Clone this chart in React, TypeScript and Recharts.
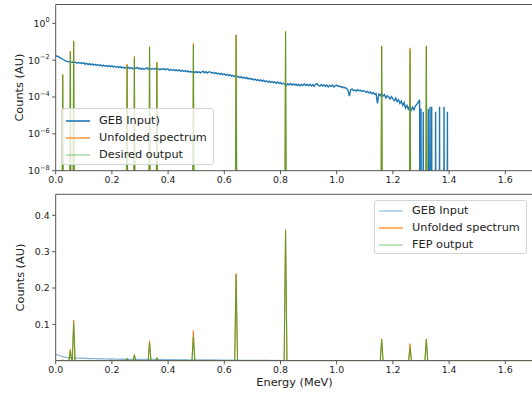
import React from 'react';
import { LineChart, Line, XAxis, YAxis, ReferenceLine } from 'recharts';

// ---------- data ----------
const X_MIN = 0;
const X_MAX = 1.7;
const X_TICKS = [0, 0.2, 0.4, 0.6, 0.8, 1.0, 1.2, 1.4, 1.6];
const LOG_TICKS = [1, 1e-2, 1e-4, 1e-6, 1e-8];
const LOG_DOMAIN = [1e-8, 10.5];
const LIN_TICKS = [0.1, 0.2, 0.3, 0.4];
const LIN_DOMAIN = [0, 0.458];

// GEB input spectrum, bins of 0.005 MeV starting at 0
const GEB_START = 0;
const GEB_STEP = 0.005;
const gebValues = [
  1.78e-2, 1.62e-2, 1.55e-2, 1.35e-2, 1.29e-2, 1.12e-2, 1.02e-2, 8.9e-3, 8.9e-3, 8.1e-3,
  8.3e-3, 7.6e-3, 7.9e-3, 7.4e-3, 7.8e-3, 7.1e-3, 7.4e-3, 6.9e-3, 7.2e-3, 6.6e-3,
  7.1e-3, 6.0e-3, 6.8e-3, 5.8e-3, 6.5e-3, 5.6e-3, 6.3e-3, 5.4e-3, 6.0e-3, 5.2e-3,
  5.8e-3, 5.0e-3, 5.5e-3, 4.8e-3, 5.4e-3, 4.7e-3, 5.1e-3, 4.5e-3, 5.0e-3, 4.4e-3,
  4.9e-3, 4.3e-3, 4.7e-3, 4.1e-3, 4.5e-3, 3.9e-3, 4.4e-3, 3.8e-3, 4.2e-3, 3.7e-3,
  4.1e-3, 3.55e-3, 4.0e-3, 3.45e-3, 3.9e-3, 3.4e-3, 3.8e-3, 3.55e-3, 4.0e-3, 3.4e-3,
  3.7e-3, 3.2e-3, 3.6e-3, 3.2e-3, 3.55e-3, 3.8e-3, 3.2e-3, 3.6e-3, 3.2e-3, 3.55e-3,
  3.2e-3, 3.6e-3, 3.1e-3, 3.5e-3, 3.0e-3, 3.4e-3, 3.1e-3, 3.5e-3, 2.95e-3, 3.3e-3,
  3.25e-3, 2.8e-3, 3.2e-3, 2.75e-3, 3.1e-3, 2.7e-3, 3.0e-3, 2.6e-3, 2.95e-3, 2.55e-3,
  2.8e-3, 2.45e-3, 2.7e-3, 2.35e-3, 2.6e-3, 2.25e-3, 2.5e-3, 2.15e-3, 2.45e-3, 2.1e-3,
  2.4e-3, 2.1e-3, 2.35e-3, 2.05e-3, 2.3e-3, 2.45e-3, 2.05e-3, 2.35e-3, 2.0e-3, 2.3e-3,
  2.3e-3, 2.0e-3, 2.2e-3, 1.86e-3, 2.1e-3, 1.78e-3, 2.0e-3, 1.7e-3, 1.9e-3, 1.62e-3,
  1.78e-3, 1.55e-3, 1.7e-3, 1.45e-3, 1.62e-3, 1.35e-3, 1.51e-3, 1.29e-3, 1.45e-3, 1.23e-3,
  1.32e-3, 1.12e-3, 1.26e-3, 1.07e-3, 1.2e-3, 1.0e-3, 1.15e-3, 9.5e-4, 1.07e-3, 9.1e-4,
  9.8e-4, 8.5e-4, 9.3e-4, 7.9e-4, 8.9e-4, 7.6e-4, 8.5e-4, 7.1e-4, 8.1e-4, 6.8e-4,
  7.6e-4, 6.5e-4, 7.2e-4, 6.2e-4, 6.9e-4, 5.9e-4, 6.6e-4, 5.6e-4, 6.5e-4, 5.5e-4,
  6.0e-4, 5.1e-4, 5.6e-4, 4.9e-4, 4.0e-4, 5.2e-4, 4.6e-4, 5.4e-4, 4.5e-4, 5.1e-4,
  4.4e-4, 5.0e-4, 4.2e-4, 4.9e-4, 4.1e-4, 4.8e-4, 4.3e-4, 5.1e-4, 4.2e-4, 4.9e-4,
  4.1e-4, 4.9e-4, 4.0e-4, 4.7e-4, 3.8e-4, 5.0e-4, 5.4e-4, 4.2e-4, 3.9e-4, 4.7e-4,
  3.9e-4, 4.6e-4, 3.7e-4, 4.4e-4, 3.55e-4, 4.3e-4, 3.8e-4, 4.5e-4, 3.55e-4, 4.2e-4,
  4.4e-4, 3.7e-4, 3.9e-4, 3.5e-4, 3.6e-4, 3.2e-4, 3.3e-4, 2.9e-4, 2.4e-4, 1.12e-4,
  2.5e-4, 2.7e-4, 2.2e-4, 2.4e-4, 2.1e-4, 2.5e-4, 2.2e-4, 2.3e-4, 2.0e-4, 2.2e-4,
  2.1e-4, 1.78e-4, 2.0e-4, 1.66e-4, 1.86e-4, 1.51e-4, 1.74e-4, 1.41e-4, 1.58e-4, 4.5e-5,
  1.41e-4, 1.2e-4, 1.58e-4, 1.12e-4, 1.32e-4, 8.9e-5, 1.17e-4, 1.0e-4, 7.9e-5, 1.05e-4,
  7.9e-5, 6.3e-5, 8.9e-5, 5.6e-5, 7.1e-5, 4.5e-5, 6.0e-5, 3.5e-5, 5.0e-5, 2.5e-5,
  3.5e-5, 2.2e-5, 3.2e-5, 1.9e-5, 2.8e-5, 2.0e-5, 3.2e-5, 4.0e-5, 5.0e-5, 7.1e-5,
];

// sparse high-energy tail of the GEB input, bins of 0.002 MeV
const GEB_TAIL_START = 1.298;
const GEB_TAIL_STEP = 0.002;
const gebTailValues = [
  0, 2.4e-5, 0, 0, 0, 1.6e-5, 0, 0, 0, 0,
  0, 0, 0, 0, 2.2e-5, 0, 0, 3.0e-5, 0, 0,
  3.0e-5, 0, 0, 0, 0, 0, 0, 1.6e-5, 0, 0,
  0, 0, 0, 0, 3.0e-5, 0, 0, 0, 0, 0,
  0, 0, 3.0e-5, 0, 0, 0, 0, 0, 1.6e-5, 0,
  0, 0,
];

// photopeaks (MeV) with desired (FEP) and unfolded heights
const peakEnergies = [0.025, 0.052, 0.064, 0.254, 0.28, 0.334, 0.36, 0.49, 0.642, 0.818, 1.16, 1.261, 1.319];
const desiredHeights = [1.6e-3, 0.028, 0.105, 5.5e-3, 0.014, 0.05, 7.4e-3, 0.066, 0.235, 0.358, 0.058, 0.036, 0.058];
const unfoldedHeights = [1.7e-3, 0.032, 0.112, 6.2e-3, 0.0165, 0.055, 8.0e-3, 0.083, 0.24, 0.361, 0.06, 0.047, 0.06];
const PEAK_HALF_WIDTH = 0.005;

const topLegendLabels = ['GEB Input)', 'Unfolded spectrum', 'Desired output'];
const bottomLegendLabels = ['GEB Input', 'Unfolded spectrum', 'FEP output'];

// ---------- derived series ----------
const LOG_FLOOR = 1e-20;
const gebData = [
  ...gebValues.map((v, i) => ({ e: +(GEB_START + i * GEB_STEP).toFixed(4), v })),
  ...gebTailValues.map((v, i) => ({ e: +(GEB_TAIL_START + i * GEB_TAIL_STEP).toFixed(4), v })),
];
function peakSeries(heights: number[]) {
  const pts: { e: number; v: number }[] = [{ e: X_MIN, v: 0 }];
  peakEnergies.forEach((E, i) => {
    pts.push({ e: E - PEAK_HALF_WIDTH, v: 0 }, { e: E, v: heights[i] }, { e: E + PEAK_HALF_WIDTH, v: 0 });
  });
  pts.push({ e: X_MAX, v: 0 });
  return pts;
}
const desiredData = peakSeries(desiredHeights);
const unfoldedData = peakSeries(unfoldedHeights);
const toLog = (d: { e: number; v: number }[]) => d.map((p) => ({ e: p.e, v: p.v > 0 ? p.v : LOG_FLOOR }));
const gebLog = toLog(gebData);
const desiredLog = toLog(desiredData);
const unfoldedLog = toLog(unfoldedData);

// ---------- styles ----------
const FONT = '"DejaVu Sans", sans-serif';
const AXIS = '#555';
const TXT = '#222';
const BLUE = '#1f77b4';
const ORANGE = '#ff7f0e';
const GREEN = '#2ca02c';
const TICK_FS = 9.4;
const LABEL_FS = 11.3;
const CHART_W = 545;
const RIGHT_M = 11.6;
const Y_AXIS_W = 55.7;

const LogTick = (props: any) => {
  const { x, y, payload } = props;
  const exp = Math.round(Math.log10(payload.value));
  const sup = exp === 0 ? '0' : '\u2212' + Math.abs(exp);
  return (
    <text x={x} y={y + 3.4} textAnchor="end" fontSize={TICK_FS} fill={TXT} fontFamily={FONT}>
      <tspan>10</tspan>
      <tspan dy={-4.6} fontSize={6.6}>{sup}</tspan>
    </text>
  );
};

const yLabel = (props: any) => {
  const vb = props.viewBox || {};
  const cx = 20;
  const cy = vb.y + vb.height / 2;
  return (
    <text x={cx} y={cy} transform={`rotate(-90, ${cx}, ${cy})`} textAnchor="middle" dominantBaseline="central"
      fontSize={LABEL_FS} fill={TXT} fontFamily={FONT}>Counts (AU)</text>
  );
};

const xLabel = (props: any) => {
  const vb = props.viewBox || {};
  const cx = vb.x + vb.width / 2;
  const cy = vb.y + 22;
  return (
    <text x={cx} y={cy} textAnchor="middle" dominantBaseline="central" fontSize={LABEL_FS} fill={TXT} fontFamily={FONT}>
      Energy (MeV)
    </text>
  );
};

type LegendItem = { label: string; color: string; width: number; opacity: number };
function LegendBox({ left, top, width, height, firstRow, items }: { left: number; top: number; width: number; height: number; firstRow: number; items: LegendItem[] }) {
  return (
    <div style={{ position: 'absolute', left, top, width, height, boxSizing: 'border-box', border: '1px solid #d4d4d4', borderRadius: 3, background: 'rgba(255,255,255,0.8)', fontFamily: FONT }}>
      {items.map((it, i) => {
        const cy = firstRow + i * 17;
        return (
          <React.Fragment key={it.label}>
            <svg style={{ position: 'absolute', left: 4, top: cy - 4, overflow: 'visible' }} width={25} height={8}>
              <line x1={0} x2={24} y1={4} y2={4} stroke={it.color} strokeWidth={it.width} strokeOpacity={it.opacity} />
            </svg>
            <div style={{ position: 'absolute', left: 37, top: cy - 8, height: 16, lineHeight: '16px', fontSize: LABEL_FS, color: TXT, whiteSpace: 'nowrap' }}>
              {it.label}
            </div>
          </React.Fragment>
        );
      })}
    </div>
  );
}

const xAxisCommon = {
  dataKey: 'e',
  type: 'number' as const,
  domain: [X_MIN, X_MAX],
  ticks: X_TICKS,
  allowDataOverflow: true,
  tickFormatter: (v: number) => v.toFixed(1),
  tick: { fontSize: TICK_FS, fill: TXT, fontFamily: FONT },
  tickSize: 3.5,
  tickMargin: 2.5,
  stroke: AXIS,
  axisLine: { stroke: AXIS },
  tickLine: { stroke: AXIS },
};

export default function App() {
  const topStyles = [
    { color: BLUE, width: 1.6, opacity: 1 },
    { color: ORANGE, width: 1.2, opacity: 1 },
    { color: GREEN, width: 1.2, opacity: 0.5 },
  ];
  const bottomStyles = [
    { color: BLUE, width: 1.2, opacity: 0.5 },
    { color: ORANGE, width: 1.2, opacity: 1 },
    { color: GREEN, width: 1.2, opacity: 0.5 },
  ];
  return (
    <div style={{ position: 'relative', width: 532, height: 394, overflow: 'hidden', background: '#fff' }}>
      <style>{'body{margin:0;}'}</style>
      <div style={{ position: 'absolute', left: 0, top: 0 }}>
        <LineChart width={CHART_W} height={190} margin={{ top: 4.5, right: RIGHT_M, bottom: 0, left: 0 }}>
          <XAxis {...xAxisCommon} height={19.3} />
          <YAxis
            type="number"
            scale="log"
            domain={LOG_DOMAIN}
            ticks={LOG_TICKS}
            allowDataOverflow
            width={Y_AXIS_W}
            tick={<LogTick />}
            tickSize={3.5}
            tickMargin={2.5}
            axisLine={{ stroke: AXIS }}
            tickLine={{ stroke: AXIS }}
            label={yLabel}
          />
          <ReferenceLine y={LOG_DOMAIN[1]} stroke={AXIS} ifOverflow="visible" />
          <Line data={gebLog} dataKey="v" type="linear" stroke={BLUE} strokeWidth={1.4} dot={false} activeDot={false} isAnimationActive={false} />
          <Line data={unfoldedLog} dataKey="v" type="linear" stroke={ORANGE} strokeWidth={0.9} dot={false} activeDot={false} isAnimationActive={false} />
          <Line data={desiredLog} dataKey="v" type="linear" stroke={GREEN} strokeOpacity={0.75} strokeWidth={1.2} dot={false} activeDot={false} isAnimationActive={false} />
        </LineChart>
      </div>
      <div style={{ position: 'absolute', left: 0, top: 190 }}>
        <LineChart width={CHART_W} height={204} margin={{ top: 4.3, right: RIGHT_M, bottom: 0, left: 0 }}>
          <XAxis {...xAxisCommon} height={33.3} label={xLabel} />
          <YAxis
            type="number"
            domain={LIN_DOMAIN}
            ticks={LIN_TICKS}
            allowDataOverflow
            width={Y_AXIS_W}
            tick={{ fontSize: TICK_FS, fill: TXT, fontFamily: FONT }}
            tickFormatter={(v: number) => v.toFixed(1)}
            tickSize={3.5}
            tickMargin={2.5}
            axisLine={{ stroke: AXIS }}
            tickLine={{ stroke: AXIS }}
            label={yLabel}
          />
          <ReferenceLine y={LIN_DOMAIN[1]} stroke={AXIS} ifOverflow="visible" />
          <Line data={gebData} dataKey="v" type="linear" stroke={BLUE} strokeOpacity={0.55} strokeWidth={1.2} dot={false} activeDot={false} isAnimationActive={false} />
          <Line data={unfoldedData} dataKey="v" type="linear" stroke={ORANGE} strokeWidth={1.0} dot={false} activeDot={false} isAnimationActive={false} />
          <Line data={desiredData} dataKey="v" type="linear" stroke={GREEN} strokeOpacity={0.7} strokeWidth={1.2} dot={false} activeDot={false} isAnimationActive={false} />
        </LineChart>
      </div>
      <LegendBox left={61} top={108} width={153} height={57} firstRow={12}
        items={topLegendLabels.map((label, i) => ({ label, ...topStyles[i] }))} />
      <LegendBox left={374} top={200} width={153} height={54} firstRow={10}
        items={bottomLegendLabels.map((label, i) => ({ label, ...bottomStyles[i] }))} />
    </div>
  );
}
